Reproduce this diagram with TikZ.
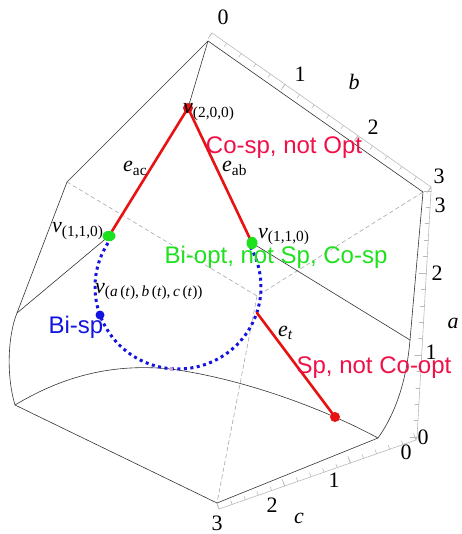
\documentclass[tikz,border=0pt]{standalone}
\usepackage{fontspec}
\setmainfont{Liberation Serif}
\setsansfont{Liberation Sans}
\usetikzlibrary{calc}
\definecolor{lred}{RGB}{232,18,18}
\definecolor{tred}{RGB}{240,16,72}
\definecolor{lgreen}{RGB}{30,225,30}
\definecolor{lblue}{RGB}{20,20,225}
\definecolor{axgray}{RGB}{185,185,185}
\begin{document}
\begin{tikzpicture}[x=1pt,y=-1pt,line cap=round,line join=round,
  edge/.style={line width=0.6pt,black!80},
  hid/.style={line width=0.6pt,black!35,dash pattern=on 4pt off 3pt},
  axis/.style={line width=0.6pt,axgray},
  redge/.style={line width=2.6pt,lred},
  bpath/.style={line width=3pt,lblue,dash pattern=on 3pt off 3.5pt,line cap=butt},
  lab/.style={font=\fontsize{22}{24}\selectfont,inner sep=0pt},
  num/.style={font=\fontsize{22}{24}\selectfont,inner sep=0pt},
  tag/.style={font=\sffamily\fontsize{24}{28}\selectfont,inner sep=0pt}]
  \useasboundingbox (0,0) rectangle (461,534);

  \coordinate (T) at (208,41);
  \coordinate (L1) at (67,182);
  \coordinate (L2) at (17,313);
  \coordinate (L3) at (15,405);
  \coordinate (B3) at (217,503);
  \coordinate (R0) at (378,438);
  \coordinate (R1) at (410,340);
  \coordinate (R3) at (423,192);
  \coordinate (H) at (257,296);

  \coordinate (V200) at (188,108);
  \coordinate (VL) at (109,236);
  \coordinate (VR) at (252,243);
  \coordinate (E1) at (257,313);
  \coordinate (E2) at (335,417);
  \coordinate (M) at (171,369);

  \coordinate (b0) at (212,33);
  \coordinate (b3) at (431,187);
  \coordinate (a3) at (431,191);
  \coordinate (a0) at (417,437);
  \coordinate (c0) at (416,440);
  \coordinate (c3) at (219,509);

  \draw[axis] (b0)--(b3)--(a3)--(a0)--(c0)--(c3);
  \foreach \k in {0,...,15} \draw[axis] ($(b0)!\k/15!(b3)$) -- ++(-2.3,3.3);
  \foreach \k in {0,5,10,15} \draw[axis] ($(b0)!\k/15!(b3)$) -- ++(-4,5.6);
  \foreach \k in {0,...,15} \draw[axis] ($(a3)!\k/15!(a0)$) -- ++(-4,0);
  \foreach \k in {0,5,10,15} \draw[axis] ($(a3)!\k/15!(a0)$) -- ++(-7,0);
  \foreach \k in {0,...,15} \draw[axis] ($(c0)!\k/15!(c3)$) -- ++(-1.4,-3.8);
  \foreach \k in {0,5,10,15} \draw[axis] ($(c0)!\k/15!(c3)$) -- ++(-2.4,-6.5);

  \draw[hid] (L1)--(H)--(R3);
  \draw[hid] (H)--(B3);

  \draw[edge] (T)--(L1)--(L2) .. controls (8,335) and (6,375) .. (L3)--(B3)--(R0)
    .. controls (398,410) and (407,375) .. (R1)--(R3)--cycle;
  \draw[edge] (L3) .. controls (70,372) and (120,364) .. (M)
    .. controls (250,380) and (330,412) .. (R0);
  \draw[edge] (T)--(V200);
  \draw[edge] (VL)--(L2);
  \draw[edge] (VR)--(R1);

  \draw[bpath] plot[domain=143:390,samples=90] ({178+83*cos(\x)},{287-82*sin(\x)});

  \draw[redge] (VL)--(V200)--(VR);
  \draw[redge] (E1)--(E2);

  \fill[lred] (V200) circle[radius=5];
  \fill[lred] (E2) circle[radius=5];
  \fill[lgreen] (VL) ellipse[x radius=6.5,y radius=5.2];
  \fill[lgreen] (VR) ellipse[x radius=5.5,y radius=6.2];
  \fill[lblue] (100,315) circle[radius=4.5];
  \fill[violet!35] (M) circle[radius=2];

  \node[lab,anchor=base west] (v200) at (183,114) {\textit{v}\textsubscript{(2,0,0)}};
  \node[lab,anchor=base west] (vl) at (52,233) {\textit{v}\textsubscript{(1,1,0)}};
  \node[lab,anchor=base west] (vr) at (258,238) {\textit{v}\textsubscript{(1,1,0)}};
  \node[lab,anchor=base west] (vt) at (95,293)
    {\textit{v}\textsubscript{(\textit{a}\,(\textit{t}),\,\textit{b}\,(\textit{t}),\,\textit{c}\,(\textit{t}))}};
  \node[lab,anchor=base west] (eac) at (123,172) {\textit{e}\textsubscript{ac}};
  \node[lab,anchor=base west] (eab) at (222,172) {\textit{e}\textsubscript{ab}};
  \node[lab,anchor=base west] (et) at (278,336) {\textit{e}\textsubscript{\textit{t}}};

  \node[tag,text=tred] (cosp) at (284,148) {Co-sp, not Opt};
  \node[tag,text=lgreen] (biopt) at (276,257) {Bi-opt, not Sp, Co-sp};
  \node[tag,text=lblue] (bisp) at (76,327) {Bi-sp};
  \node[tag,text=tred] (sp) at (374,368) {Sp, not Co-opt};

  \node[num] (nb0) at (223,17) {0};
  \node[num] (nb1) at (300,74) {1};
  \node[num] (nb2) at (373,127) {2};
  \node[num] (nb3) at (439,176) {3};
  \node[num] (lb) at (354,82) {\textit{b}};
  \node[num] (na3) at (440,205) {3};
  \node[num] (na2) at (437,273) {2};
  \node[num] (na1) at (431,352) {1};
  \node[num] (na0) at (423,437) {0};
  \node[num] (la) at (453,323) {\textit{a}};
  \node[num] (nc0) at (406,452) {0};
  \node[num] (nc1) at (334,480) {1};
  \node[num] (nc2) at (272,505) {2};
  \node[num] (nc3) at (217,523) {3};
  \node[num] (lc) at (299,518) {\textit{c}};
\end{tikzpicture}
\end{document}
